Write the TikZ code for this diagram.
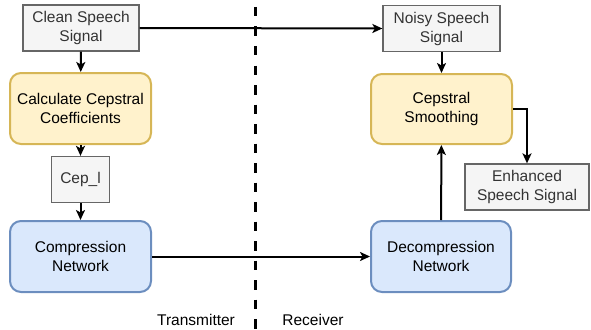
\documentclass[tikz,border=0pt]{standalone}
\usepackage{fontspec}
\setmainfont{Liberation Sans}
\usetikzlibrary{arrows.meta}
\definecolor{greyfill}{HTML}{F5F5F5}
\definecolor{greyline}{HTML}{666666}
\definecolor{greytext}{HTML}{333333}
\definecolor{yellowfill}{HTML}{FFF2CC}
\definecolor{yellowline}{HTML}{D6B656}
\definecolor{bluefill}{HTML}{DAE8FC}
\definecolor{blueline}{HTML}{6C8EBF}
\tikzset{
  base/.style={align=center, inner sep=0pt, font=\fontsize{15.5}{19}\selectfont},
  signal/.style={base, draw=greyline, fill=greyfill, text=greytext, line width=1.3pt},
  process/.style={base, draw=yellowline, fill=yellowfill, line width=2pt, rounded corners=11pt},
  network/.style={base, draw=blueline, fill=bluefill, line width=2pt, rounded corners=11pt},
  flow/.style={line width=2pt, -{Stealth[length=10pt,width=9pt,inset=2.5pt]}},
}
\begin{document}
\begin{tikzpicture}[x=1pt,y=-1pt]
\useasboundingbox (0,0) rectangle (591,329);
% transmitter / receiver divider
\draw[line width=3pt, dash pattern=on 9.5pt off 10pt, dash phase=-7pt] (255.5,0) -- (255.5,329);
% transmitter side
\node[signal, minimum width=116pt, minimum height=46pt] (clean) at (81,28) {Clean Speech\\Signal};
\node[process, minimum width=141pt, minimum height=71pt] (calc) at (80.5,108.5) {Calculate Cepstral\\Coefficients};
\node[signal, minimum width=58pt, minimum height=46pt] (cep) at (80.5,179.5) {Cep\_l};
\node[network, minimum width=141pt, minimum height=71pt] (comp) at (80.5,256.5) {Compression\\Network};
% receiver side
\node[signal, minimum width=117pt, minimum height=46pt] (noisy) at (441.5,28.5) {Noisy Speech\\Signal};
\node[process, minimum width=141pt, minimum height=70pt] (smooth) at (441.5,109) {Cepstral\\Smoothing};
\node[signal, minimum width=124pt, minimum height=46pt] (enh) at (527,187) {Enhanced\\Speech Signal};
\node[network, minimum width=140pt, minimum height=71pt] (decomp) at (441,256.5) {Decompression\\Network};
% side labels
\node[base] (tx) at (196,320) {Transmitter};
\node[base] (rx) at (313,320) {Receiver};
% connectors
\draw[flow] (clean) -- (calc);
\draw[flow] (calc) -- (cep);
\draw[flow] (cep) -- (comp);
\draw[flow] (clean.east) -- (noisy.west);
\draw[flow] (noisy) -- (smooth);
\draw[flow] (comp.east) -- (decomp.west);
\draw[flow] (decomp) -- (smooth);
\draw[flow] (smooth.east) -| (enh.north);
\end{tikzpicture}
\end{document}
